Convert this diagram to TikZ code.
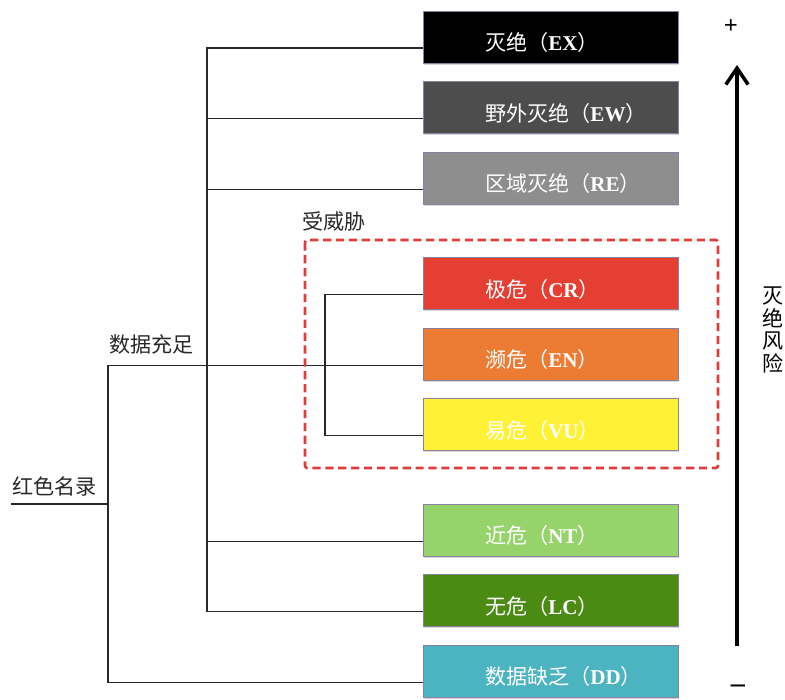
\documentclass[tikz,border=0pt]{standalone}
\usepackage{fontspec}
\newfontfamily\cjk{Noto Sans CJK SC}
\newfontfamily\latin{Liberation Serif}
\usetikzlibrary{arrows.meta}
\usetikzlibrary{shadows}
\definecolor{cEX}{RGB}{0,0,0}
\definecolor{cEW}{RGB}{77,77,77}
\definecolor{cRE}{RGB}{142,142,142}
\definecolor{cCR}{RGB}{229,62,51}
\definecolor{cEN}{RGB}{236,123,52}
\definecolor{cVU}{RGB}{255,241,54}
\definecolor{cNT}{RGB}{151,211,107}
\definecolor{cLC}{RGB}{75,139,19}
\definecolor{cDD}{RGB}{76,179,192}
\definecolor{edge}{RGB}{140,128,160}
\definecolor{ln}{RGB}{40,40,40}
\definecolor{dred}{RGB}{224,60,60}
\newcommand\cat[2]{#1（{\latin\bfseries #2}）}

\begin{document}
\begin{tikzpicture}[
    x=0.03cm, y=-0.03cm,
    font=\cjk\fontsize{18}{20}\selectfont,
    l/.style={
        line width=1.1pt,
        color=ln
    },
    c/.style={
        rectangle, draw=edge, line width=0.5pt, text=white,
        text width=7.65cm, inner sep=0pt, align=left,
        text height=1.19cm, text depth=0.37cm,
        execute at begin node={\noindent\hspace*{1.86cm}},
        drop shadow={opacity=0.3, shadow xshift=1pt, shadow yshift=-1.5pt}
    },
    t/.style={inner sep=0pt, text=ln},
    thr/.style={draw=dred, line width=2.3pt, dash pattern=on 7pt off 4pt, rounded corners=2pt},
    risk/.style={line width=3pt, -{Straight Barb[length=14pt,width=19pt]}},
    sg/.style={font={\latin\bfseries\fontsize{21}{21}\selectfont}, inner sep=0pt}
]
    \useasboundingbox (0,0) rectangle (785,699);

    \node [c, fill=cEX] (EX) at (550.5,  37  ) {\cat{灭绝}{EX}};
    \node [c, fill=cEW] (EW) at (550.5, 107.5) {\cat{野外灭绝}{EW}};
    \node [c, fill=cRE] (RE) at (550.5, 178  ) {\cat{区域灭绝}{RE}};
    \node [c, fill=cCR] (CR) at (550.5, 283.5) {\cat{极危}{CR}};
    \node [c, fill=cEN] (EN) at (550.5, 354  ) {\cat{濒危}{EN}};
    \node [c, fill=cVU] (VU) at (550.5, 424.5) {\cat{易危}{VU}};
    \node [c, fill=cNT] (NT) at (550.5, 530  ) {\cat{近危}{NT}};
    \node [c, fill=cLC] (LC) at (550.5, 600.5) {\cat{无危}{LC}};
    \node [c, fill=cDD] (DD) at (550.5, 671  ) {\cat{数据缺乏}{DD}};

    \node [t, anchor=base west] (red) at ( 12, 494) {红色名录};
    \node [t, anchor=base west] (ds)  at (109, 352) {数据充足};
    \node [t, anchor=base west] (th)  at (302, 229) {受威胁};

    \coordinate (root) at ( 11, 504);
    \coordinate (b1)   at (108,   0);
    \coordinate (b2)   at (207,   0);
    \coordinate (b3)   at (325,   0);

    \draw [l] (root) -- (root -| b1);
    \draw [l] (EN.mid west) -- (EN.mid west -| b1) |- (DD.mid west);
    \draw [l] (EX.mid west) -- (EX.mid west -| b2) |- (LC.mid west);
    \foreach \n in {EW,RE,NT}
        \draw [l] (\n.mid west) -- (\n.mid west -| b2);
    \draw [l] (CR.mid west) -- (CR.mid west -| b3) |- (VU.mid west);

    \draw [thr] (305,240) rectangle (718,468);

    \node [sg] (plus)  at (731,  27) {+};
    \node [sg, font={\latin\bfseries\fontsize{24}{24}\selectfont}] (minus) at (738, 689) {–};
    \coordinate (lo) at (737, 646);
    \coordinate (hi) at (737,  65);
    \draw [risk] (lo) -- (hi);
    \node [align=center, font=\cjk\fontsize{18}{19.5}\selectfont] (rl) at (773, 330) {灭\\绝\\风\\险};

\end{tikzpicture}
\end{document}
